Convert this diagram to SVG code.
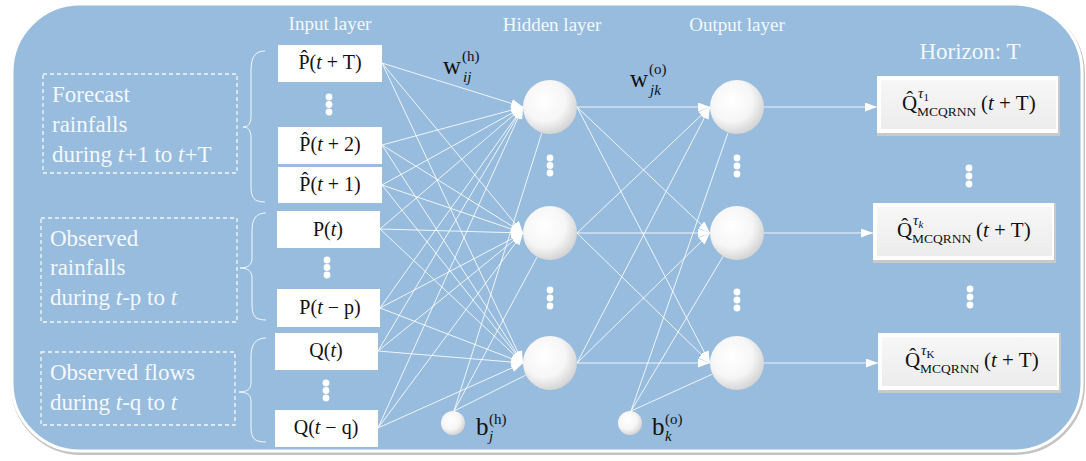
<svg xmlns="http://www.w3.org/2000/svg" width="1086" height="461" viewBox="0 0 1086 461">
<style>
.lbl{font-family:"Liberation Serif",serif;fill:#f4f8fc;font-size:19px}
.grp{font-family:"Liberation Serif",serif;fill:#f4f8fc;font-size:23px}
.math{font-family:"Liberation Serif",serif;fill:#111;font-size:20px}
.m24{font-size:25px}
.m20{font-size:21px}
.sm{font-size:15px}
.sub{font-size:13.5px}
.xs{font-size:11px}
.it{font-style:italic}
.ibox{fill:#fff}
.dash{fill:none;stroke:#f4f8fc;stroke-width:1.3;stroke-dasharray:4 3}
.brace{fill:none;stroke:#f4f8fc;stroke-width:1}
.dot{fill:#fff}
.node{fill:url(#sph)}
.con line{stroke:#fff;stroke-width:1;stroke-opacity:0.85}
.arr{marker-end:url(#ah)}
</style>
<defs>
<radialGradient id="sph" cx="0.4" cy="0.38" r="0.65">
<stop offset="0" stop-color="#ffffff"/>
<stop offset="0.6" stop-color="#f6f6f6"/>
<stop offset="1" stop-color="#d2d2d2"/>
</radialGradient>
<linearGradient id="bg" x1="0" y1="0" x2="0" y2="1">
<stop offset="0" stop-color="#f7f7f7"/>
<stop offset="1" stop-color="#ececec"/>
</linearGradient>
<marker id="ah" viewBox="0 0 12 9" refX="12" refY="4.5" markerWidth="12" markerHeight="9" markerUnits="userSpaceOnUse" orient="auto">
<path d="M0,0 L12,4.5 L0,9 z" fill="#fff"/>
</marker>
</defs>
<rect width="1086" height="461" fill="#fff"/>
<rect x="13" y="6" width="1070" height="447" rx="68" fill="none" stroke="#c4c4c4" stroke-width="4"/>
<rect x="12" y="4" width="1070" height="447" rx="68" fill="#97bcde" stroke="#ffffff" stroke-width="3"/>

<g id="labels">
<text class="lbl" x="330" y="30" text-anchor="middle">Input layer</text>
<text class="lbl" x="552" y="31" text-anchor="middle">Hidden layer</text>
<text class="lbl" x="737" y="31" text-anchor="middle">Output layer</text>
<text class="grp" x="970" y="59" text-anchor="middle">Horizon: T</text>
</g>

<g id="group-forecast">
<rect class="dash" x="43" y="74" width="194" height="99"/>
<text class="grp" x="52" y="102">Forecast</text>
<text class="grp" x="52" y="132">rainfalls</text>
<text class="grp" x="52" y="162">during <tspan class="it">t</tspan>+1 to <tspan class="it">t</tspan>+T</text>
<path class="brace" d="M265,51 C254,51 251,58 251,72 L251,116 C251,124 248,127 243,127 C248,127 251,130 251,138 L251,186 C251,198 254,202 265,202"/>
</g>
<g id="group-obs-rain">
<rect class="dash" x="41" y="218" width="196" height="104"/>
<text class="grp" x="50" y="246">Observed</text>
<text class="grp" x="50" y="275">rainfalls</text>
<text class="grp" x="50" y="305">during <tspan class="it">t</tspan>-p to <tspan class="it">t</tspan></text>
<path class="brace" d="M266,213 C255,213 252,220 252,232 L252,258 C252,265 248,268 240,268 C248,268 252,271 252,278 L252,304 C252,316 255,320 266,320"/>
</g>
<g id="group-obs-flow">
<rect class="dash" x="41" y="352" width="194" height="73"/>
<text class="grp" x="50" y="380">Observed flows</text>
<text class="grp" x="50" y="410">during <tspan class="it">t</tspan>-q to <tspan class="it">t</tspan></text>
<path class="brace" d="M266,338 C255,338 251,345 251,357 L251,383 C251,389 247,392 239,392 C247,392 251,395 251,401 L251,427 C251,439 255,442 266,442"/>
</g>

<g id="connectors" class="con">
<line class="arr" x1="382" y1="63" x2="523" y2="107"/>
<line class="arr" x1="382" y1="63" x2="523" y2="233"/>
<line class="arr" x1="382" y1="63" x2="523" y2="363"/>
<line class="arr" x1="382" y1="145" x2="523" y2="107"/>
<line class="arr" x1="382" y1="145" x2="523" y2="233"/>
<line class="arr" x1="382" y1="145" x2="523" y2="363"/>
<line class="arr" x1="382" y1="185" x2="523" y2="107"/>
<line class="arr" x1="382" y1="185" x2="523" y2="233"/>
<line class="arr" x1="382" y1="185" x2="523" y2="363"/>
<line class="arr" x1="380" y1="229" x2="523" y2="107"/>
<line class="arr" x1="380" y1="229" x2="523" y2="233"/>
<line class="arr" x1="380" y1="229" x2="523" y2="363"/>
<line class="arr" x1="380" y1="308" x2="523" y2="107"/>
<line class="arr" x1="380" y1="308" x2="523" y2="233"/>
<line class="arr" x1="380" y1="308" x2="523" y2="363"/>
<line class="arr" x1="378" y1="351" x2="523" y2="107"/>
<line class="arr" x1="378" y1="351" x2="523" y2="233"/>
<line class="arr" x1="378" y1="351" x2="523" y2="363"/>
<line class="arr" x1="378" y1="428" x2="523" y2="107"/>
<line class="arr" x1="378" y1="428" x2="523" y2="233"/>
<line class="arr" x1="378" y1="428" x2="523" y2="363"/>
<line x1="454" y1="411" x2="541.9" y2="132.7"/>
<line x1="454" y1="411" x2="537.2" y2="256.8"/>
<line x1="454" y1="411" x2="525.8" y2="375.1"/>
<line class="arr" x1="577" y1="107" x2="710" y2="107"/>
<line class="arr" x1="577" y1="107" x2="710" y2="233"/>
<line class="arr" x1="577" y1="107" x2="710" y2="363"/>
<line class="arr" x1="577" y1="233" x2="710" y2="107"/>
<line class="arr" x1="577" y1="233" x2="710" y2="233"/>
<line class="arr" x1="577" y1="233" x2="710" y2="363"/>
<line class="arr" x1="577" y1="363" x2="710" y2="107"/>
<line class="arr" x1="577" y1="363" x2="710" y2="233"/>
<line class="arr" x1="577" y1="363" x2="710" y2="363"/>
<line x1="631" y1="411" x2="728.1" y2="132.5"/>
<line x1="631" y1="411" x2="723.2" y2="256.2"/>
<line x1="631" y1="411" x2="712.4" y2="374.1"/>
<line class="arr" x1="764" y1="107" x2="877" y2="107"/>
<line class="arr" x1="764" y1="233" x2="873" y2="233"/>
<line class="arr" x1="764" y1="363" x2="878" y2="363"/>
</g>

<g id="in-P-tT"><rect class="ibox" x="278" y="45" width="104" height="37"/><text class="math" x="330" y="69" text-anchor="middle">P̂(<tspan class="it">t</tspan> + T)</text></g>
<g id="in-dots-1"><circle class="dot" cx="329" cy="97" r="3.4"/><circle class="dot" cx="329" cy="104.5" r="3.4"/><circle class="dot" cx="329" cy="112" r="3.4"/></g>
<g id="in-P-t2"><rect class="ibox" x="278" y="127" width="104" height="37"/><text class="math" x="330" y="151" text-anchor="middle">P̂(<tspan class="it">t</tspan> + 2)</text></g>
<g id="in-P-t1"><rect class="ibox" x="278" y="167" width="104" height="36"/><text class="math" x="330" y="191" text-anchor="middle">P̂(<tspan class="it">t</tspan> + 1)</text></g>
<g id="in-P-t"><rect class="ibox" x="277" y="211" width="103" height="37"/><text class="math" x="328" y="236" text-anchor="middle">P(<tspan class="it">t</tspan>)</text></g>
<g id="in-dots-2"><circle class="dot" cx="327" cy="260" r="3.4"/><circle class="dot" cx="327" cy="267.5" r="3.4"/><circle class="dot" cx="327" cy="275" r="3.4"/></g>
<g id="in-P-tp"><rect class="ibox" x="277" y="289" width="103" height="38"/><text class="math" x="330" y="314" text-anchor="middle">P(<tspan class="it">t</tspan> − p)</text></g>
<g id="in-Q-t"><rect class="ibox" x="275" y="333" width="103" height="37"/><text class="math" x="326" y="357" text-anchor="middle">Q(<tspan class="it">t</tspan>)</text></g>
<g id="in-dots-3"><circle class="dot" cx="326" cy="383" r="3.4"/><circle class="dot" cx="326" cy="390.5" r="3.4"/><circle class="dot" cx="326" cy="398" r="3.4"/></g>
<g id="in-Q-tq"><rect class="ibox" x="275" y="410" width="103" height="37"/><text class="math" x="326" y="434" text-anchor="middle">Q(<tspan class="it">t</tspan> − q)</text></g>

<g id="hidden-1"><circle class="node" cx="550" cy="107" r="27"/></g>
<g id="hidden-dots-1"><circle class="dot" cx="550" cy="158" r="3.4"/><circle class="dot" cx="550" cy="165.5" r="3.4"/><circle class="dot" cx="550" cy="173" r="3.4"/></g>
<g id="hidden-2"><circle class="node" cx="550" cy="233" r="27"/></g>
<g id="hidden-dots-2"><circle class="dot" cx="550" cy="290" r="3.4"/><circle class="dot" cx="550" cy="298" r="3.4"/><circle class="dot" cx="550" cy="306" r="3.4"/></g>
<g id="hidden-3"><circle class="node" cx="550" cy="363" r="27"/></g>
<g id="bias-h"><circle class="node" cx="453" cy="423" r="12"/>
<text class="math m24" x="476" y="435">b</text>
<text class="math sm" x="489" y="424">(h)</text>
<text class="math sm it" x="489" y="441">j</text></g>

<g id="output-1"><circle class="node" cx="737" cy="107" r="27"/></g>
<g id="output-dots-1"><circle class="dot" cx="737" cy="158" r="3.4"/><circle class="dot" cx="737" cy="166" r="3.4"/><circle class="dot" cx="737" cy="174" r="3.4"/></g>
<g id="output-2"><circle class="node" cx="737" cy="233" r="27"/></g>
<g id="output-dots-2"><circle class="dot" cx="737" cy="292" r="3.4"/><circle class="dot" cx="737" cy="300" r="3.4"/><circle class="dot" cx="737" cy="308" r="3.4"/></g>
<g id="output-3"><circle class="node" cx="737" cy="363" r="27"/></g>
<g id="bias-o"><circle class="node" cx="630" cy="423" r="12"/>
<text class="math m24" x="652" y="435">b</text>
<text class="math sm" x="665" y="424">(o)</text>
<text class="math sm it" x="665" y="441">k</text></g>

<g id="weight-h">
<text class="math m24" x="443" y="74">w</text>
<text class="math sm" x="462" y="61">(h)</text>
<text class="math sm it" x="463" y="82">ij</text>
</g>
<g id="weight-o">
<text class="math m24" x="630" y="87">w</text>
<text class="math sm" x="649" y="74">(o)</text>
<text class="math sm it" x="650" y="95">jk</text>
</g>

<g id="result-1">
<rect x="877" y="76" width="183" height="60" fill="#c9c9c9"/>
<rect x="877" y="76" width="181" height="57" fill="#ffffff"/>
<rect x="881" y="80" width="175" height="49" fill="url(#bg)"/>
<text class="math m20" x="902" y="110">Q̂</text>
<text class="math sm" x="918" y="98"><tspan class="it">τ</tspan><tspan class="xs" dy="3">1</tspan></text>
<text class="math sub" x="917" y="116">MCQRNN</text>
<text class="math m20" x="981" y="110">(<tspan class="it">t</tspan> + T)</text>
</g>
<g id="result-dots-1"><circle class="dot" cx="969" cy="168" r="3.4"/><circle class="dot" cx="969" cy="176" r="3.4"/><circle class="dot" cx="969" cy="184" r="3.4"/></g>
<g id="result-2">
<rect x="873" y="203" width="183" height="60" fill="#c9c9c9"/>
<rect x="873" y="203" width="181" height="57" fill="#ffffff"/>
<rect x="877" y="207" width="175" height="49" fill="url(#bg)"/>
<text class="math m20" x="897" y="237">Q̂</text>
<text class="math sm" x="913" y="225"><tspan class="it">τ</tspan><tspan class="xs it" dy="3">k</tspan></text>
<text class="math sub" x="912" y="243">MCQRNN</text>
<text class="math m20" x="976" y="237">(<tspan class="it">t</tspan> + T)</text>
</g>
<g id="result-dots-2"><circle class="dot" cx="970" cy="289" r="3.4"/><circle class="dot" cx="970" cy="297" r="3.4"/><circle class="dot" cx="970" cy="305" r="3.4"/></g>
<g id="result-3">
<rect x="878" y="333" width="183" height="60" fill="#c9c9c9"/>
<rect x="878" y="333" width="181" height="57" fill="#ffffff"/>
<rect x="882" y="337" width="175" height="49" fill="url(#bg)"/>
<text class="math m20" x="905" y="367">Q̂</text>
<text class="math sm" x="921" y="355"><tspan class="it">τ</tspan><tspan class="xs" dy="3">K</tspan></text>
<text class="math sub" x="920" y="373">MCQRNN</text>
<text class="math m20" x="984" y="367">(<tspan class="it">t</tspan> + T)</text>
</g>
</svg>
